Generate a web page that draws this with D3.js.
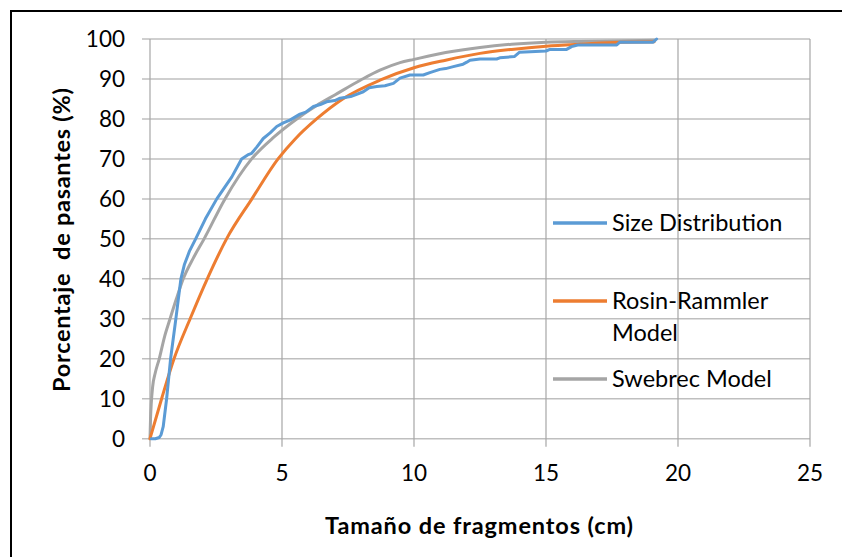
<!DOCTYPE html>
<html>
<head>
<meta charset="utf-8">
<script src="https://cdn.jsdelivr.net/npm/d3@7"></script>
<style>
  html, body { margin: 0; padding: 0; background: #fff; }
  svg { display: block; font-family: Lato, "Open Sans", sans-serif; }
</style>
</head>
<body>
<svg id="chart" width="842" height="557"></svg>
<script>
// Measured size distribution (cumulative % passing vs fragment size, cm)
const sizeX = [0.05, 0.2, 0.35, 0.42, 0.5, 0.63, 0.78, 0.98, 1.17, 1.3, 1.5, 1.73, 2.1, 2.53, 2.84, 3.1, 3.47, 3.7, 3.85, 4.05, 4.29, 4.55, 4.8, 5.05, 5.3, 5.68, 5.9, 6.19, 6.45, 6.69, 7.0, 7.2, 7.6, 8.08, 8.3, 8.59, 8.9, 9.22, 9.47, 9.85, 10.35, 10.6, 10.98, 11.2, 11.49, 11.86, 12.0, 12.12, 12.5, 13.13, 13.25, 13.8, 14.0, 15.0, 15.15, 15.78, 15.97, 16.2, 17.68, 17.8, 19.06, 19.19];
const sizeY = [0, 0, 0.3, 1, 3, 10, 20, 30, 40, 43.5, 47, 50, 55, 60, 63, 65.5, 70, 71, 71.4, 73, 75.1, 76.5, 78.1, 79, 79.7, 81.2, 81.7, 83.1, 83.6, 84.3, 84.6, 85.2, 85.6, 86.8, 87.8, 88.1, 88.3, 88.9, 90.2, 91.0, 91.0, 91.6, 92.4, 92.6, 93.1, 93.7, 94.2, 94.7, 95.0, 95.0, 95.3, 95.6, 96.7, 97.0, 97.4, 97.4, 98.1, 98.5, 98.5, 99.2, 99.2, 100];

// Rosin-Rammler model curve
const rosinX = [0, 0.44, 0.91, 1.52, 2.17, 2.9, 3.86, 4.85, 5.5, 6.31, 7.3, 8.71, 10, 11.2, 12.5, 13.7, 15, 16.3, 17.6, 19.1];
const rosinY = [0, 10, 20, 30, 40, 50, 60, 70, 75, 80, 85, 89.7, 92.8, 94.7, 96.4, 97.4, 98.2, 98.7, 99.1, 99.3];

// Swebrec model curve
const swebX = [0, 0.02, 0.05, 0.1, 0.2, 0.35, 0.55, 0.76, 1.0, 1.26, 1.65, 2.05, 2.84, 3.85, 4.7, 5.56, 6.3, 7.0, 8.0, 8.71, 9.47, 10, 11.2, 12.5, 13.7, 15, 16.3, 17.6, 19.1];
const swebY = [0, 5, 9, 13, 16.5, 20, 25.5, 30, 35, 40, 45.3, 50, 60, 70, 75.5, 80, 83.3, 86, 89.8, 92.2, 94.1, 94.9, 96.6, 97.9, 98.7, 99.2, 99.4, 99.5, 99.7];

const xTicks = [0, 5, 10, 15, 20, 25];
const yTicks = [0, 10, 20, 30, 40, 50, 60, 70, 80, 90, 100];

const seriesNames = ["Size Distribution", "Rosin-Rammler Model", "Swebrec Model"];
const seriesColors = ["#5B9BD5", "#ED7D31", "#A5A5A5"];

const xTitle = "Tamaño de fragmentos (cm)";
const yTitle = "Porcentaje  de pasantes (%)";

const svg = d3.select("#chart");

// outer frame
svg.append("path")
  .attr("d", "M11,560 L11,11 L845,11")
  .attr("fill", "none").attr("stroke", "#000").attr("stroke-width", 2);

const x = d3.scaleLinear().domain([0, 25]).range([150, 810]);
const y = d3.scaleLinear().domain([0, 100]).range([438.7, 39]);

// horizontal grid lines (with outside tick stubs)
svg.append("g").selectAll("line").data(yTicks).join("line")
  .attr("x1", 142).attr("x2", x(25))
  .attr("y1", d => y(d)).attr("y2", d => y(d))
  .attr("stroke", "#BFBFBF").attr("stroke-width", 1.5);

// vertical grid lines (with outside tick stubs)
svg.append("g").selectAll("line").data(xTicks).join("line")
  .attr("x1", d => x(d)).attr("x2", d => x(d))
  .attr("y1", y(100)).attr("y2", y(0) + 8)
  .attr("stroke", "#A6A6A6").attr("stroke-width", 1.2);

// tick labels
svg.append("g").selectAll("text").data(yTicks).join("text")
  .attr("x", 125).attr("y", d => y(d))
  .attr("dy", "0.36em")
  .attr("text-anchor", "end")
  .attr("font-size", 22.5).attr("fill", "#000")
  .text(d => d);

svg.append("g").selectAll("text").data(xTicks).join("text")
  .attr("x", d => x(d)).attr("y", 473)
  .attr("dy", "0.36em")
  .attr("text-anchor", "middle")
  .attr("font-size", 22.5).attr("fill", "#000")
  .text(d => d);

// axis titles
svg.append("text")
  .attr("x", 479).attr("y", 534)
  .attr("text-anchor", "middle")
  .attr("font-size", 23.5).attr("font-weight", "bold")
  .attr("textLength", 308).attr("lengthAdjust", "spacing")
  .text(xTitle);

svg.append("text")
  .attr("transform", "translate(70,240) rotate(-90)")
  .attr("text-anchor", "middle")
  .attr("font-size", 23.5).attr("font-weight", "bold")
  .attr("textLength", 304).attr("lengthAdjust", "spacing")
  .style("white-space", "pre")
  .text(yTitle);

// series
const line = (curve) => d3.line().x(d => x(d[0])).y(d => y(d[1])).curve(curve);
const series = [
  { pts: d3.zip(sizeX, sizeY), curve: d3.curveLinear },
  { pts: d3.zip(rosinX, rosinY), curve: d3.curveMonotoneX },
  { pts: d3.zip(swebX, swebY), curve: d3.curveMonotoneX }
];
// draw order: gray at back, then orange, then blue on top
[2, 1, 0].forEach(i => {
  svg.append("path")
    .attr("d", line(series[i].curve)(series[i].pts))
    .attr("fill", "none")
    .attr("stroke", seriesColors[i])
    .attr("stroke-width", 3)
    .attr("stroke-linejoin", "round")
    .attr("stroke-linecap", "round");
});

// legend
const legendRows = [
  { lineY: 223, lines: ["Size Distribution"] },
  { lineY: 301, lines: ["Rosin-Rammler", "Model"] },
  { lineY: 379, lines: ["Swebrec Model"] }
];
const lg = svg.append("g");
legendRows.forEach((r, i) => {
  lg.append("line")
    .attr("x1", 553).attr("x2", 607)
    .attr("y1", r.lineY).attr("y2", r.lineY)
    .attr("stroke", seriesColors[i]).attr("stroke-width", 3.5);
  r.lines.forEach((t, j) => {
    lg.append("text")
      .attr("x", 612).attr("y", r.lineY + j * 32)
      .attr("dy", "0.36em")
      .attr("font-size", 23.5).attr("fill", "#000")
      .text(t);
  });
});
</script>
</body>
</html>
